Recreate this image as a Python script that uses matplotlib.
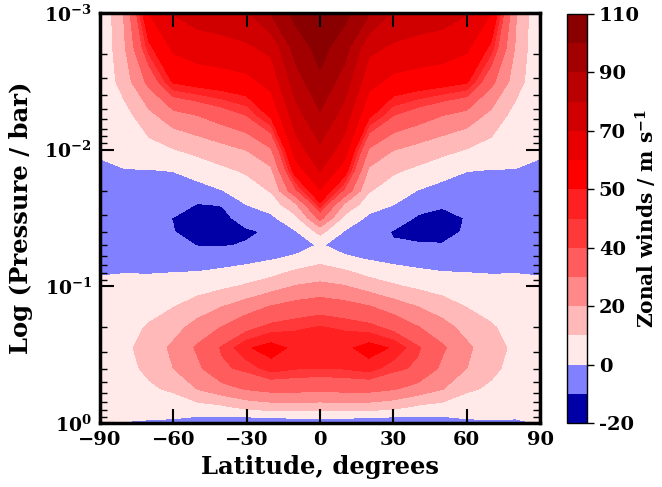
import matplotlib
matplotlib.use("Agg")
import matplotlib.pyplot as plt
import matplotlib.colors as mcolors
import numpy as np

plt.rcParams["font.family"] = "serif"
plt.rcParams["font.serif"] = ["DejaVu Serif"]
plt.rcParams["font.weight"] = "bold"
plt.rcParams["mathtext.fontset"] = "dejavuserif"
plt.rcParams["mathtext.default"] = "bf"

# latitude grid (degrees) and log10 of pressure (bar)
lats = [-90, -80, -70, -60, -50, -40, -30, -20, -10, 0,
        10, 20, 30, 40, 50, 60, 70, 80, 90]
logp = [-3.0, -2.75, -2.5, -2.25, -2.0, -1.85, -1.7, -1.6, -1.5, -1.4, -1.3,
        -1.2, -1.1, -1.0, -0.85, -0.7, -0.55, -0.4, -0.25, -0.12, 0.0]

# zonal wind (m/s), one row per pressure level
u_p3000 = [0, 21, 60, 70.5, 74, 76, 79, 91, 103, 108, 103, 91, 79, 76, 74, 70.5, 60, 21, 0]
u_p2750 = [0.5, 19, 48, 62, 65.5, 66.6, 68.5, 72.7, 94.6, 103.5, 94.6, 72.7, 68.5, 66.6, 65.5, 62, 48, 19, 0.5]
u_p2500 = [1, 15, 33, 51.3, 54, 55.6, 57.4, 63.5, 85.3, 98.2, 85.3, 63.5, 57.4, 55.6, 54, 51.3, 33, 15, 1]
u_p2250 = [1.5, 6, 17, 26, 30, 35, 40, 51.6, 75.8, 88.8, 75.8, 51.6, 40, 35, 30, 26, 17, 6, 1.5]
u_p2000 = [1, 3.5, 6, 9.5, 13, 16.5, 20.3, 29, 65, 77.9, 65, 29, 20.3, 16.5, 13, 9.5, 6, 3.5, 1]
u_p1850 = [-1.3, -0.3, -0.2, 0.3, 4, 8, 11.5, 18.2, 55, 70.7, 55, 18.2, 11.5, 8, 4, 0.3, -0.2, -0.3, -1.3]
u_p1700 = [-3.5, -3.2, -3.4, -4, -3.5, -0.3, 5, 10.7, 38.3, 59.2, 38.3, 10.7, 5, -0.3, -3.5, -4, -3.4, -3.2, -3.5]
u_p1600 = [-5, -4.8, -5.4, -7, -10.3, -9.6, 0.2, 4.2, 18.6, 48.6, 18.6, 4.2, 0.2, -7, -9, -6.8, -5.4, -4.8, -5]
u_p1500 = [-6, -6.9, -7.9, -10.2, -13.3, -12.5, -6, -1.9, 7.1, 33.3, 7.1, -1.9, -5.4, -11, -12.5, -9.6, -7.9, -6.9, -6]
u_p1400 = [-5.2, -6.2, -6.3, -9.8, -13.6, -13, -11.3, -8.8, -0.7, 12.9, -0.7, -6.3, -10.6, -12, -12.8, -9, -6.3, -6.2, -5.2]
u_p1300 = [-4.5, -4.6, -4.4, -7.2, -10.3, -10.6, -9.3, -8.4, -4.4, 1.0, -4.4, -7, -9.3, -9.4, -9.5, -7, -4.4, -4.6, -4.5]
u_p1200 = [-2.7, -2.5, -2.3, -2.8, -4.6, -4.2, -3, -0.7, 2.1, 6.8, 2.1, -0.7, -3, -4.2, -4.6, -2.8, -2.3, -2.5, -2.7]
u_p1100 = [-0.2, -0.1, -0.3, 0, 0.4, 1.9, 4.3, 7, 12, 14.7, 12, 7, 4.3, 1.9, 0.4, 0, -0.3, -0.1, -0.2]
u_p1000 = [0.6, 1.3, 2.3, 3.7, 5.8, 8.1, 11.3, 15.7, 20.6, 22.5, 20.6, 15.7, 11.3, 8.1, 5.8, 3.7, 2.3, 1.3, 0.6]
u_p0850 = [1.7, 4, 6.8, 9.7, 14.8, 20, 25.3, 30.7, 34, 36.4, 34, 30.7, 25.3, 20, 14.8, 9.7, 6.8, 4, 1.7]
u_p0700 = [2.5, 6.3, 11, 16.3, 24, 30.5, 37.6, 42.3, 44.2, 45.3, 44.2, 42.3, 37.6, 30.5, 24, 16.3, 11, 6.3, 2.5]
u_p0550 = [3, 7.8, 14, 22, 31.5, 41, 49.3, 52.5, 48.5, 48, 48.5, 52.5, 49.3, 41, 31.5, 22, 14, 7.8, 3]
u_p0400 = [3, 7, 12, 20, 28, 38.5, 42, 47.5, 45.4, 45, 45.4, 47.5, 42, 38.5, 28, 20, 12, 7, 3]
u_p0250 = [2.5, 5, 8.5, 11.6, 20.4, 26.4, 30.8, 33.3, 33.3, 32.5, 33.3, 33.3, 30.8, 26.4, 20.4, 11.6, 8.5, 5, 2.5]
u_p0120 = [2, 3, 4, 4.2, 6.5, 8.5, 13.3, 15.6, 15.6, 15.6, 15.6, 15.6, 13.3, 8.5, 6.5, 4.2, 4, 3, 2]
u_p0000 = [1, -0.3, -1, -1.5, -4.5, -5.5, -8, -7.5, -6.5, -6, -6.5, -7.5, -8, -5.5, -4.5, -1.5, -1, -1, 0.3]

wind = np.array([u_p3000, u_p2750, u_p2500, u_p2250, u_p2000, u_p1850, u_p1700,
                 u_p1600, u_p1500, u_p1400, u_p1300, u_p1200, u_p1100, u_p1000,
                 u_p0850, u_p0700, u_p0550, u_p0400, u_p0250, u_p0120, u_p0000])

levels = [-20, -10, 0, 10, 20, 30, 40, 45, 50, 60, 70, 80, 90, 100, 110]
cbar_labels = ["-20", "0", "20", "40", "50", "70", "90", "110"]

font_size = 14
fig = plt.figure(figsize=(6.62, 4.87), dpi=100)
ax = fig.add_axes([0.1511, 0.1314, 0.6647, 0.8419])
cax = fig.add_axes([0.8565, 0.1314, 0.0302, 0.8398])

norm = mcolors.TwoSlopeNorm(vmin=-20, vcenter=0, vmax=110)
cs = ax.contourf(lats, logp, wind, levels=levels, cmap="seismic", norm=norm)

ax.set_xlim(-90, 90)
ax.set_ylim(0, -3)
ax.set_xticks([-90, -60, -30, 0, 30, 60, 90])
ax.set_yticks([-3, -2, -1, 0])
ax.set_yticklabels([r"$10^{-3}$", r"$10^{-2}$", r"$10^{-1}$", r"$10^{0}$"])
minor = [np.log10(k * 10.0 ** n) for n in (-3, -2, -1) for k in range(2, 10)]
ax.set_yticks(minor, minor=True)

ax.set_xlabel("Latitude, degrees", fontsize=17.5, fontweight="bold", labelpad=4)
ax.set_ylabel("Log (Pressure / bar)", fontsize=17.5, fontweight="bold", labelpad=8)
ax.tick_params(which="both", direction="in", top=True, right=True)
ax.tick_params(axis="x", labelsize=font_size)
ax.tick_params(axis="y", labelsize=13.5)
ax.tick_params(which="major", length=10, width=1.5, pad=6)
ax.tick_params(which="minor", length=5, width=1)
for sp in ax.spines.values():
    sp.set_linewidth(2.5)

cbar = fig.colorbar(cs, cax=cax, ticks=levels[::2])
cbar.ax.set_yticklabels(cbar_labels)
cbar.ax.tick_params(labelsize=font_size, length=5, width=1)
cbar.outline.set_linewidth(1)
cbar.set_label(r"Zonal winds / m s$^{-1}$", fontsize=14.5, fontweight="bold")
cbar.ax.yaxis.set_label_coords(3.35, 0.5)

fig.savefig("out.png", dpi=100)
plt.close("all")
